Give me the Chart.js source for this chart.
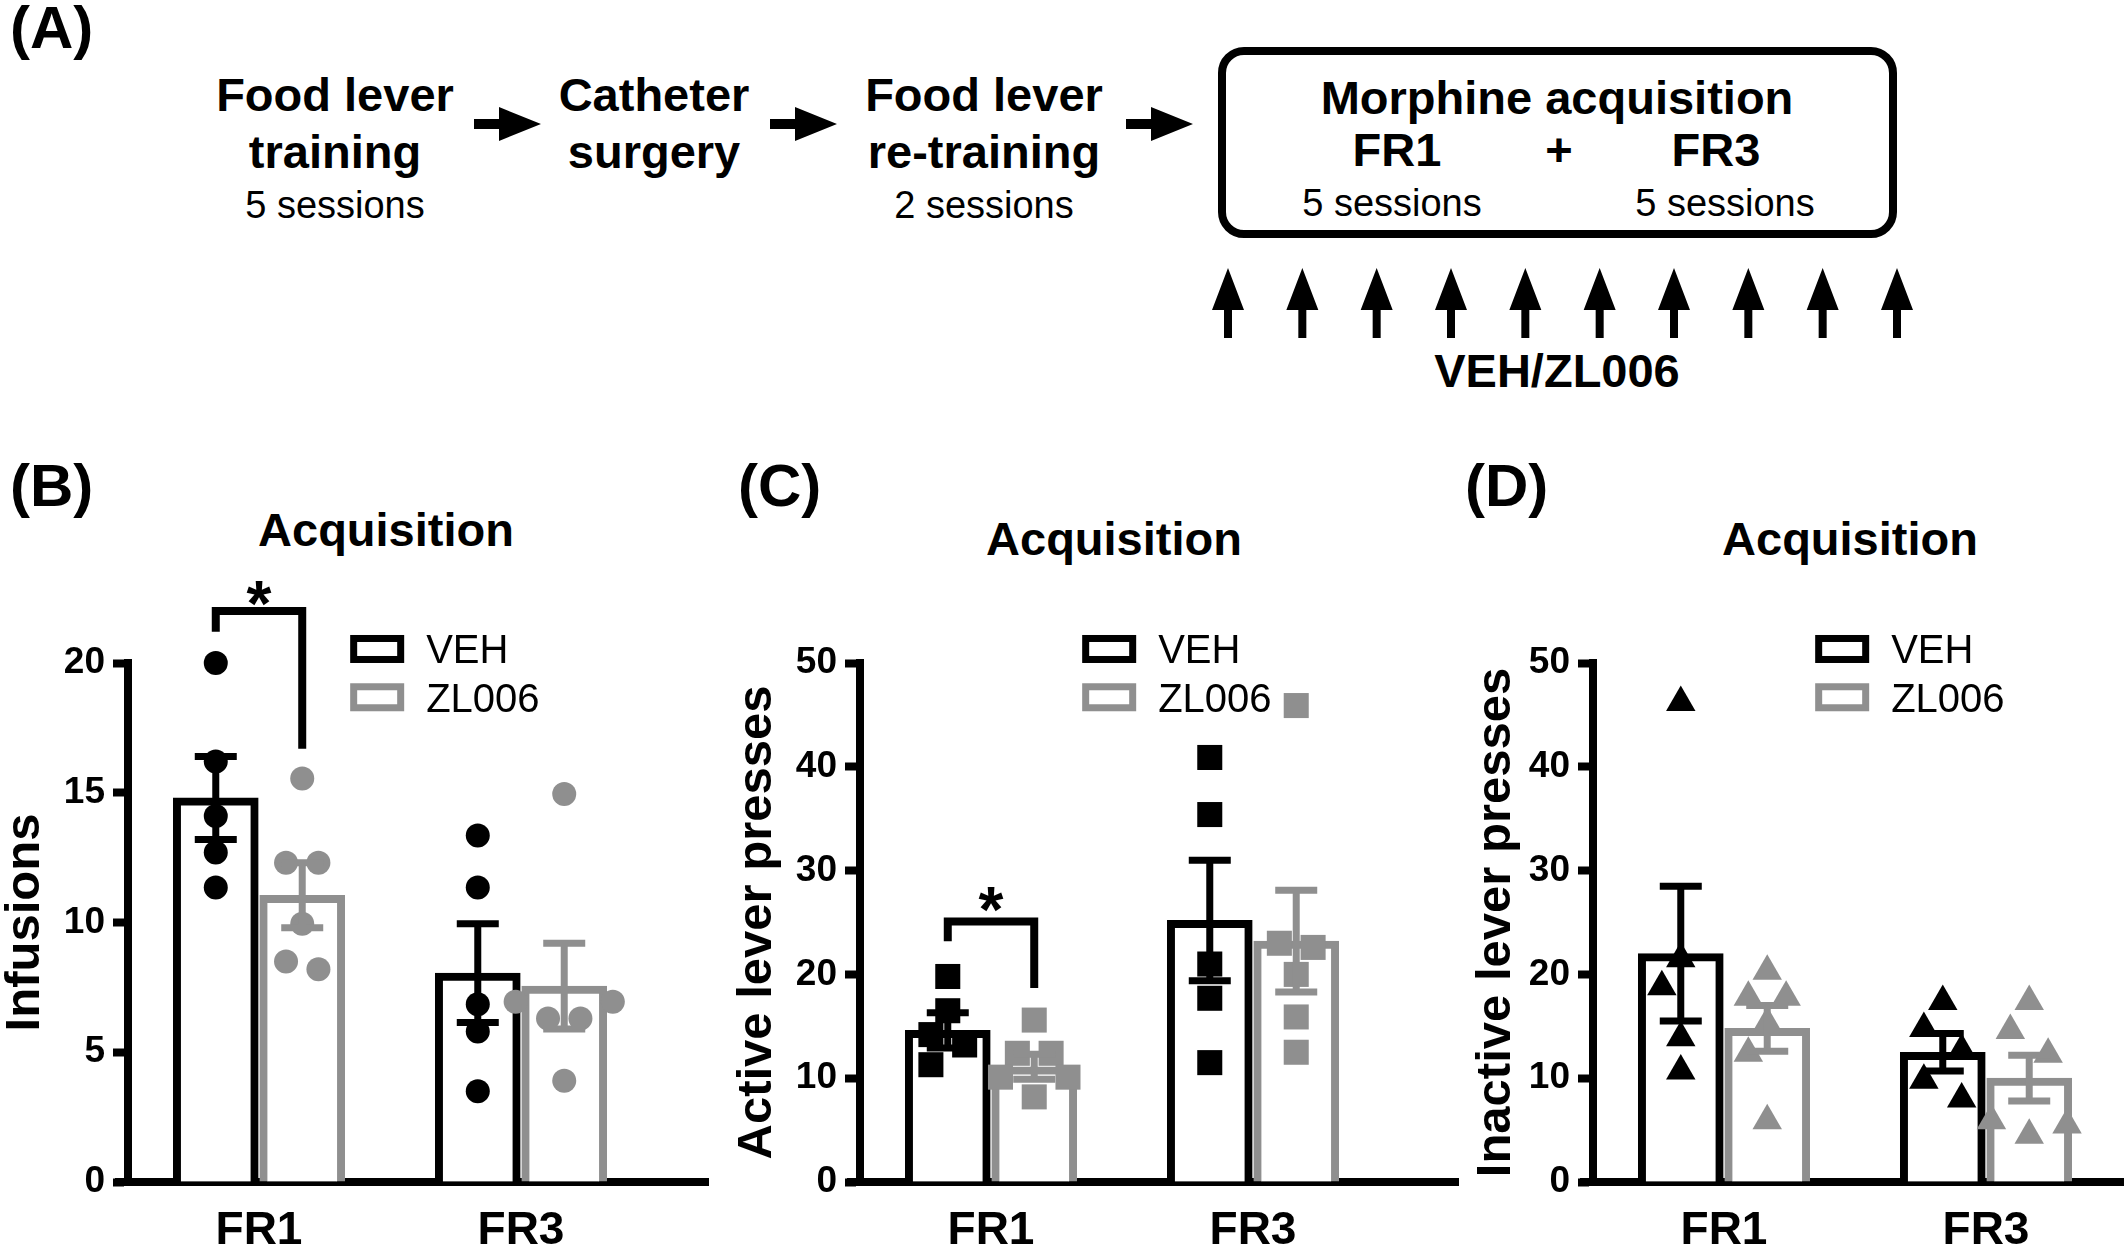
<!DOCTYPE html>
<html>
<head>
<meta charset="utf-8">
<title>ZL006 - morphine acquisition</title>
<script src="https://cdn.jsdelivr.net/npm/chart.js@4.4.1/dist/chart.umd.min.js"></script>
<style>
  html, body { margin: 0; padding: 0; background: #fff; }
  body { position: relative; width: 2128px; height: 1258px; overflow: hidden;
         font-family: "Liberation Sans", Arial, sans-serif; color: #000; }
  .t { position: absolute; line-height: 1; white-space: nowrap; }
  .c { width: 600px; text-align: center; }
  .h { font-size: 47px; font-weight: bold; }
  .s { font-size: 38px; }
  .p { font-size: 60px; font-weight: bold; }
  canvas { position: absolute; top: 400px; }
  #box { position: absolute; left: 1218px; top: 47px; width: 663px; height: 175px;
         border: 8px solid #000; border-radius: 26px; }
  #arrows { position: absolute; left: 0; top: 0; }
</style>
</head>
<body>
<!-- (A) protocol -->
<div class="t p" style="left:10px;top:-2px">(A)</div>
<div class="t c h" style="left:35px;top:71px">Food lever</div>
<div class="t c h" style="left:35px;top:128px">training</div>
<div class="t c s" style="left:35px;top:186px">5 sessions</div>
<div class="t c h" style="left:354px;top:71px">Catheter</div>
<div class="t c h" style="left:354px;top:128px">surgery</div>
<div class="t c h" style="left:684px;top:71px">Food lever</div>
<div class="t c h" style="left:684px;top:128px">re-training</div>
<div class="t c s" style="left:684px;top:186px">2 sessions</div>
<div id="box"></div>
<div class="t c h" style="left:1257px;top:74px">Morphine acquisition</div>
<div class="t c h" style="left:1097px;top:126px">FR1</div>
<div class="t c h" style="left:1259px;top:126px">+</div>
<div class="t c h" style="left:1416px;top:126px">FR3</div>
<div class="t c s" style="left:1092px;top:184px">5 sessions</div>
<div class="t c s" style="left:1425px;top:184px">5 sessions</div>
<div class="t c h" style="left:1257px;top:347px">VEH/ZL006</div>
<svg id="arrows" width="2128" height="400"></svg>

<!-- panel letters and titles -->
<div class="t p" style="left:10px;top:456px">(B)</div>
<div class="t p" style="left:738px;top:456px">(C)</div>
<div class="t p" style="left:1465px;top:456px">(D)</div>
<div class="t c h" style="left:86px;top:506px">Acquisition</div>
<div class="t c h" style="left:814px;top:515px">Acquisition</div>
<div class="t c h" style="left:1550px;top:515px">Acquisition</div>

<canvas id="chartB" width="760" height="858" style="left:0px"></canvas>
<canvas id="chartC" width="760" height="858" style="left:730px"></canvas>
<canvas id="chartD" width="720" height="858" style="left:1462px"></canvas>

<script>
// ---- data ----
const groups = ['FR1', 'FR3'];
const seriesNames = ['VEH', 'ZL006'];

// (B) infusions
const infusionTicks = [0, 5, 10, 15, 20];
const infusionVehMean = [14.8, 8.05];
const infusionVehSem = [1.6, 1.9];
const infusionZlMean = [11.05, 7.55];
const infusionZlSem = [1.25, 1.65];
const infusionVehFR1 = [20.0, 16.2, 14.1, 12.7, 11.35];
const infusionVehFR3 = [13.35, 11.35, 6.85, 5.8, 3.5];
const infusionZlFR1 = [15.55, 12.3, 12.3, 9.95, 8.5, 8.2];
const infusionZlFR3 = [14.95, 6.95, 6.95, 6.3, 6.3, 3.9];

// (C) active lever presses
const activeTicks = [0, 10, 20, 30, 40, 50];
const activeVehMean = [14.6, 25.2];
const activeVehSem = [1.7, 5.8];
const activeZlMean = [11.1, 23.2];
const activeZlSem = [1.2, 4.9];
const activeVehFR1 = [19.8, 16.5, 14.2, 13.2, 11.3];
const activeVehFR3 = [40.9, 35.4, 21.0, 17.7, 11.5];
const activeZlFR1 = [15.6, 12.4, 12.4, 10.1, 10.1, 8.2];
const activeZlFR3 = [45.9, 23.0, 22.6, 20.0, 15.9, 12.5];

// (D) inactive lever presses
const inactiveTicks = [0, 10, 20, 30, 40, 50];
const inactiveVehMean = [22.0, 12.5];
const inactiveVehSem = [6.5, 1.8];
const inactiveZlMean = [14.8, 10.0];
const inactiveZlSem = [2.2, 2.2];
const inactiveVehFR1 = [46.2, 21.5, 18.8, 13.9, 10.7];
const inactiveVehFR3 = [17.4, 14.8, 12.7, 9.8, 8.0];
const inactiveZlFR1 = [20.3, 17.8, 17.8, 15.3, 12.4, 5.9];
const inactiveZlFR3 = [17.4, 14.6, 12.3, 5.9, 5.5, 4.5];

// ---- layout ----
const FONT = '"Liberation Sans", Arial, sans-serif';
const GREY = '#8f8f8f';
const CANVAS_TOP = 400, CANVAS_H = 858;
const PLOT_TOP = 663, PLOT_BOTTOM = 1182, PLOT_W = 524;
const UNIT_PX = PLOT_W / 4;          // group slots: FR1 at 1, FR3 at 3
const groupX = [1, 3];
const BAR_SHIFT = 0.33;
const BAR_PX = 85;

Chart.defaults.font.family = FONT;
Chart.defaults.color = '#000';

// protocol arrows
(function () {
  const svg = document.getElementById('arrows');
  let html = '';
  [474, 770, 1126].forEach(x0 => {
    const cy = 124;
    html += `<polygon fill="#000" points="${x0},${cy - 5} ${x0 + 25},${cy - 5} ${x0 + 25},${cy - 17} ${x0 + 67},${cy} ${x0 + 25},${cy + 17} ${x0 + 25},${cy + 5} ${x0},${cy + 5}"/>`;
  });
  for (let i = 0; i < 10; i++) {
    const cx = 1228 + i * (1897 - 1228) / 9;
    html += `<polygon fill="#000" points="${cx},268 ${cx + 16},310 ${cx + 4},310 ${cx + 4},338 ${cx - 4},338 ${cx - 4},310 ${cx - 16},310"/>`;
  }
  svg.innerHTML = html;
})();

// spread points sideways like a column scatter (offsets in px)
function spread(values, pxPerUnit, w) {
  const s = 1.35 * w, d = 1.1 * w, tol = 23;
  const order = values.map((v, i) => i).sort((a, b) => values[b] - values[a]);
  const off = values.map(() => 0);
  const placed = [];
  let k = 0;
  while (k < order.length) {
    const row = [order[k]];
    let j = k + 1;
    while (j < order.length && (values[order[k]] - values[order[j]]) * pxPerUnit < tol) {
      row.push(order[j]);
      j++;
    }
    if (row.length > 1) {
      const n = row.length;
      const slots = [];
      for (let i = 0; i < n; i++) slots.push((i - (n - 1) / 2) * s);
      slots.sort((a, b) => Math.abs(a) - Math.abs(b) || b - a);
      row.slice().sort((a, b) => values[a] - values[b]).forEach((idx, i) => {
        off[idx] = slots[i];
        placed.push(idx);
      });
    } else {
      const idx = row[0];
      const cands = [0, -s / 2, s / 2, -s, s];
      for (const c of cands) {
        const hit = placed.some(p => Math.hypot(off[p] - c, (values[p] - values[idx]) * pxPerUnit) < d);
        if (!hit) { off[idx] = c; break; }
      }
      placed.push(idx);
    }
    k = j;
  }
  return off;
}

function buildPanel(p) {
  const plotLeft = p.axisX - p.left;
  const canvasW = document.getElementById(p.id).width;
  const plotW = p.xMax * UNIT_PX;
  const pxPerUnit = (PLOT_BOTTOM - PLOT_TOP) / p.yMax;
  const series = [
    { name: seriesNames[0], color: '#000', mean: p.vehMean, sem: p.vehSem, pts: p.vehPts, shift: -BAR_SHIFT },
    { name: seriesNames[1], color: GREY, mean: p.zlMean, sem: p.zlSem, pts: p.zlPts, shift: BAR_SHIFT }
  ];

  const datasets = [];
  series.forEach(s => {
    datasets.push({
      type: 'bar',
      label: s.name,
      data: groups.map((g, i) => ({ x: groupX[i] + s.shift, y: s.mean[i] })),
      backgroundColor: '#fff',
      borderColor: s.color,
      borderWidth: 8,
      barThickness: BAR_PX,
      grouped: false,
      order: 3
    });
  });
  series.forEach(s => {
    const pts = [];
    s.pts.forEach((vals, i) => {
      const off = spread(vals, pxPerUnit, p.markerW);
      vals.forEach((v, k) => pts.push({ x: groupX[i] + s.shift + off[k] / UNIT_PX, y: v }));
    });
    datasets.push({
      type: 'scatter',
      label: s.name + ' animals',
      data: pts,
      pointStyle: p.marker,
      pointRadius: p.markerR,
      pointHoverRadius: p.markerR,
      backgroundColor: s.color,
      borderWidth: 0,
      clip: false,
      order: 1
    });
  });

  const decor = {
    id: 'decor',
    afterDatasetsDraw(chart) {
      const ctx = chart.ctx, xs = chart.scales.x, ys = chart.scales.y;
      ctx.save();
      ctx.lineWidth = 7;
      series.forEach(s => {
        ctx.strokeStyle = s.color;
        groups.forEach((g, i) => {
          const x = xs.getPixelForValue(groupX[i] + s.shift);
          const y1 = ys.getPixelForValue(s.mean[i] + s.sem[i]);
          const y2 = ys.getPixelForValue(s.mean[i] - s.sem[i]);
          ctx.beginPath();
          ctx.moveTo(x, y1); ctx.lineTo(x, y2);
          ctx.moveTo(x - 21, y1); ctx.lineTo(x + 21, y1);
          ctx.moveTo(x - 21, y2); ctx.lineTo(x + 21, y2);
          ctx.stroke();
        });
      });
      ctx.restore();
    },
    afterDraw(chart) {
      const ctx = chart.ctx, xs = chart.scales.x, ys = chart.scales.y, area = chart.chartArea;
      ctx.save();
      // x axis runs a little past the y axis
      ctx.fillStyle = '#000';
      ctx.fillRect(area.left - 13, area.bottom - 4, 13, 8);
      // legend
      const boxL = area.left + 0.424 * PLOT_W, textL = area.left + 0.569 * PLOT_W;
      [1.027, 0.934].forEach((f, i) => {
        const cy = ys.getPixelForValue(f * p.yMax);
        ctx.lineWidth = 7;
        ctx.strokeStyle = series[i].color;
        ctx.strokeRect(boxL + 3.5, cy - 14 + 3.5, 54 - 7, 28 - 7);
        ctx.fillStyle = '#000';
        ctx.font = '40px ' + FONT;
        ctx.textAlign = 'left';
        ctx.textBaseline = 'alphabetic';
        ctx.fillText(series[i].name, textL, cy + 0.358 * 40);
      });
      // significance bracket
      if (p.bracket) {
        const b = p.bracket;
        const xL = xs.getPixelForValue(groupX[b.group] - BAR_SHIFT);
        const xR = xs.getPixelForValue(groupX[b.group] + BAR_SHIFT);
        ctx.lineWidth = 8;
        ctx.strokeStyle = '#000';
        ctx.lineJoin = 'miter';
        ctx.beginPath();
        ctx.moveTo(xL, ys.getPixelForValue(b.leftEnd));
        ctx.lineTo(xL, ys.getPixelForValue(b.top));
        ctx.lineTo(xR, ys.getPixelForValue(b.top));
        ctx.lineTo(xR, ys.getPixelForValue(b.rightEnd));
        ctx.stroke();
        ctx.fillStyle = '#000';
        ctx.font = 'bold 64px ' + FONT;
        ctx.textAlign = 'center';
        ctx.textBaseline = 'alphabetic';
        ctx.fillText('*', (xL + xR) / 2, ys.getPixelForValue(b.star) + 0.56 * 64);
      }
      ctx.restore();
    }
  };

  return new Chart(document.getElementById(p.id), {
    type: 'bar',
    data: { datasets: datasets },
    options: {
      responsive: false,
      animation: false,
      devicePixelRatio: 1,
      layout: { padding: { left: 0, top: PLOT_TOP - CANVAS_TOP, right: canvasW - plotLeft - plotW, bottom: 0 } },
      plugins: { legend: { display: false }, tooltip: { enabled: false }, title: { display: false } },
      scales: {
        x: {
          type: 'linear', min: 0, max: p.xMax, position: 'bottom', offset: false, bounds: 'data',
          afterBuildTicks: sc => { sc.ticks = groupX.map(v => ({ value: v })); },
          afterFit: sc => { sc.height = CANVAS_H - (PLOT_BOTTOM - CANVAS_TOP); },
          grid: { display: false, offset: false, drawTicks: false, tickLength: 0 },
          border: { display: true, color: '#000', width: 8 },
          ticks: {
            color: '#000', padding: 22, maxRotation: 0, autoSkip: false,
            font: { family: FONT, size: 46, weight: 'bold' },
            callback: v => groups[groupX.indexOf(v)]
          }
        },
        y: {
          type: 'linear', min: 0, max: p.yMax, position: 'left',
          afterBuildTicks: sc => { sc.ticks = p.ticks.map(v => ({ value: v })); },
          afterFit: sc => { sc.width = plotLeft; },
          grid: { display: true, drawOnChartArea: false, drawTicks: true, tickLength: 15, tickWidth: 8, tickColor: '#000' },
          border: { display: true, color: '#000', width: 8 },
          ticks: { color: '#000', padding: 8, autoSkip: false, font: { family: FONT, size: 37, weight: 'bold' } },
          title: {
            display: true, text: p.yTitle, color: '#000',
            font: { family: FONT, size: 49, weight: 'bold', lineHeight: 1 },
            padding: { top: p.titleX - p.left - 24.5, bottom: 0 }
          }
        }
      }
    },
    plugins: [decor]
  });
}

buildPanel({
  id: 'chartB', left: 0, axisX: 128, xMax: 4.43, titleX: 25, yTitle: 'Infusions',
  yMax: 20, ticks: infusionTicks, marker: 'circle', markerR: 12, markerW: 24,
  vehMean: infusionVehMean, vehSem: infusionVehSem, vehPts: [infusionVehFR1, infusionVehFR3],
  zlMean: infusionZlMean, zlSem: infusionZlSem, zlPts: [infusionZlFR1, infusionZlFR3],
  bracket: { group: 0, top: 22.0, leftEnd: 21.2, rightEnd: 16.7, star: 22.8 }
});
buildPanel({
  id: 'chartC', left: 730, axisX: 860, xMax: 4.57, titleX: 757, yTitle: 'Active lever presses',
  yMax: 50, ticks: activeTicks, marker: 'rect', markerR: 17.7, markerW: 25,
  vehMean: activeVehMean, vehSem: activeVehSem, vehPts: [activeVehFR1, activeVehFR3],
  zlMean: activeZlMean, zlSem: activeZlSem, zlPts: [activeZlFR1, activeZlFR3],
  bracket: { group: 0, top: 25.1, leftEnd: 23.2, rightEnd: 18.7, star: 27.5 }
});
buildPanel({
  id: 'chartD', left: 1462, axisX: 1593, xMax: 4.05, titleX: 1496, yTitle: 'Inactive lever presses',
  yMax: 50, ticks: inactiveTicks, marker: 'triangle', markerR: 17, markerW: 28,
  vehMean: inactiveVehMean, vehSem: inactiveVehSem, vehPts: [inactiveVehFR1, inactiveVehFR3],
  zlMean: inactiveZlMean, zlSem: inactiveZlSem, zlPts: [inactiveZlFR1, inactiveZlFR3]
});
</script>
</body>
</html>
